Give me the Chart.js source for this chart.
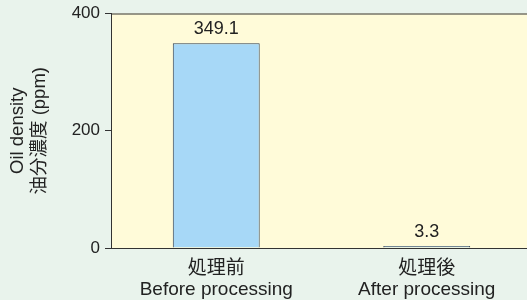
<!DOCTYPE html>
<html>
<head>
<meta charset="utf-8">
<script src="https://cdn.jsdelivr.net/npm/chart.js@4/dist/chart.umd.min.js"></script>
<style>
  html, body { margin: 0; padding: 0; overflow: hidden; background: #e9f3ec; }
  #wrap { width: 532px; height: 300px; }
</style>
</head>
<body>
<div id="wrap"><canvas id="oilChart"></canvas></div>
<script>
// 데이터
const categories = [['処理前', 'Before processing'], ['処理後', 'After processing']];
const oilValues = [349.1, 3.3];
const yTicks = [0, 200, 400];
const yTitle = ['Oil density', '油分濃度 (ppm)'];

const FONT = "'Liberation Sans', 'Noto Sans CJK JP', sans-serif";

// 플롯 영역 배경 + 위쪽 테두리
const areaPlugin = {
  id: 'area',
  beforeDraw(chart) {
    const { ctx, chartArea: a } = chart;
    ctx.save();
    ctx.fillStyle = '#fffbd9';
    ctx.fillRect(a.left, a.top, a.right - a.left, a.bottom - a.top);
    ctx.strokeStyle = '#333';
    ctx.lineWidth = 1;
    ctx.beginPath();
    ctx.moveTo(a.left, a.top + 0.5);
    ctx.lineTo(a.right, a.top + 0.5);
    ctx.stroke();
    ctx.restore();
  }
};

// 막대 위 값 표시
const valuePlugin = {
  id: 'values',
  afterDatasetsDraw(chart) {
    const { ctx } = chart;
    const meta = chart.getDatasetMeta(0);
    ctx.save();
    ctx.font = '18px ' + FONT;
    ctx.fillStyle = '#222';
    ctx.textAlign = 'center';
    ctx.textBaseline = 'bottom';
    meta.data.forEach((bar, i) => {
      ctx.fillText(oilValues[i].toString(), bar.x, bar.y - 5);
    });
    ctx.restore();
  }
};

new Chart(document.getElementById('oilChart'), {
  type: 'bar',
  data: {
    labels: categories,
    datasets: [{
      data: oilValues,
      backgroundColor: '#a7d8f7',
      borderColor: '#2d3d52',
      borderWidth: 1,
      borderSkipped: 'bottom',
      barPercentage: 0.413,
      categoryPercentage: 1
    }]
  },
  options: {
    responsive: true,
    maintainAspectRatio: false,
    animation: false,
    layout: { padding: { top: 13, left: 0, right: 0, bottom: 0 } },
    plugins: {
      legend: { display: false },
      tooltip: { enabled: false }
    },
    scales: {
      x: {
        grid: { display: false, drawTicks: false },
        border: { color: '#333', width: 1 },
        ticks: {
          color: '#222',
          font: { family: FONT, size: 19, lineHeight: 1.1 },
          padding: 10,
          maxRotation: 0
        },
        afterFit(scale) { scale.height = 52; }
      },
      y: {
        min: 0,
        max: 400,
        afterBuildTicks(scale) { scale.ticks = yTicks.map(v => ({ value: v })); },
        grid: { drawOnChartArea: false, color: '#333', tickLength: 6 },
        border: { color: '#333', width: 1 },
        ticks: {
          color: '#222',
          font: { family: FONT, size: 17, lineHeight: 1 },
          padding: 5
        },
        title: {
          display: true,
          text: yTitle,
          color: '#222',
          font: { family: FONT, size: 18.5, lineHeight: 1.2 },
          padding: { top: 7, bottom: 0 }
        },
        afterFit(scale) { scale.width = 111; }
      }
    }
  },
  plugins: [areaPlugin, valuePlugin]
});
</script>
</body>
</html>
